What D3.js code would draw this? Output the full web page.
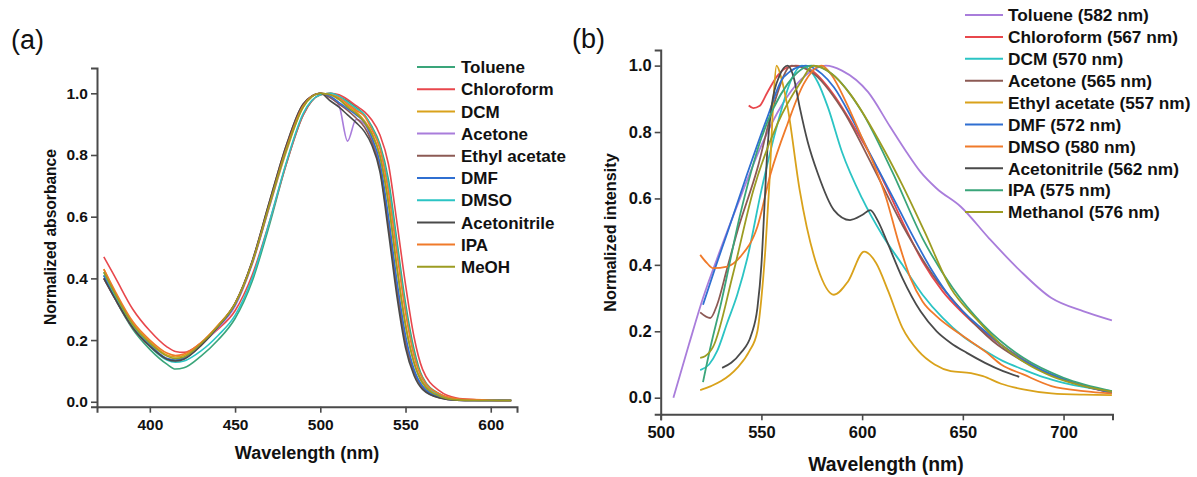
<!DOCTYPE html>
<html>
<head>
<meta charset="utf-8">
<script src="https://cdn.jsdelivr.net/npm/d3@7"></script>
<style>
  html, body { margin: 0; padding: 0; background: #ffffff; }
  svg { display: block; font-family: "Liberation Sans", Arial, sans-serif; }
</style>
</head>
<body>
<svg id="chart" width="1197" height="477"></svg>
<script>
// ---------------- Panel (a): absorbance ----------------
const aWavelengths = [373,380,390,400,410,415,420,430,440,450,460,470,480,490,500,506,511,516,521,526,530,535,540,545,550,555,560,570,580,590,600,612];
const aNames = ["Toluene","Chloroform","DCM","Acetone","Ethyl acetate","DMF","DMSO","Acetonitrile","IPA","MeOH"];
const aColors = ["#3aa57a","#e8474c","#d9a21b","#a97ddb","#8c5a54","#2f6fd1","#2bc4c4","#4a4a4a","#f07a2a","#9c9c22"];
const aToluene      = [0.41,0.33,0.235,0.17,0.122,0.106,0.11,0.148,0.2,0.27,0.39,0.57,0.77,0.93,0.995,1.0,0.99,0.975,0.955,0.93,0.895,0.835,0.72,0.52,0.32,0.17,0.08,0.025,0.008,0.006,0.006,0.005];
const aChloroform   = [0.47,0.40,0.30,0.23,0.178,0.163,0.16,0.19,0.235,0.295,0.41,0.58,0.77,0.93,0.995,1.0,0.995,0.98,0.96,0.94,0.915,0.865,0.77,0.58,0.38,0.21,0.105,0.035,0.012,0.007,0.005,0.004];
const aDCM          = [0.43,0.35,0.255,0.195,0.152,0.145,0.15,0.19,0.248,0.318,0.45,0.63,0.81,0.955,1.0,0.995,0.98,0.96,0.94,0.91,0.875,0.8,0.65,0.44,0.255,0.13,0.065,0.02,0.007,0.005,0.004,0.004];
const aAcetone      = [0.40,0.33,0.24,0.18,0.14,0.134,0.14,0.183,0.24,0.31,0.445,0.63,0.815,0.96,1.0,0.985,0.96,0.845,0.915,0.9,0.855,0.765,0.58,0.37,0.2,0.1,0.05,0.015,0.005,0.004,0.004,0.004];
const aEthylAcetate = [0.40,0.33,0.24,0.18,0.138,0.133,0.14,0.185,0.245,0.32,0.455,0.645,0.83,0.965,1.0,0.985,0.965,0.945,0.92,0.89,0.845,0.755,0.57,0.36,0.19,0.095,0.045,0.013,0.005,0.004,0.004,0.004];
const aDMF          = [0.41,0.335,0.245,0.185,0.14,0.135,0.142,0.185,0.243,0.315,0.45,0.635,0.82,0.96,1.0,0.99,0.97,0.95,0.93,0.905,0.86,0.775,0.6,0.39,0.215,0.105,0.05,0.015,0.005,0.004,0.004,0.004];
const aDMSO         = [0.42,0.34,0.245,0.18,0.135,0.128,0.132,0.165,0.215,0.28,0.40,0.58,0.775,0.935,0.995,1.0,0.99,0.97,0.95,0.93,0.89,0.825,0.7,0.5,0.3,0.155,0.075,0.022,0.007,0.005,0.005,0.004];
const aAcetonitrile = [0.40,0.33,0.24,0.18,0.138,0.132,0.138,0.182,0.243,0.318,0.455,0.645,0.83,0.965,1.0,0.975,0.955,0.93,0.905,0.875,0.835,0.745,0.55,0.34,0.175,0.085,0.04,0.012,0.005,0.004,0.004,0.004];
const aIPA          = [0.43,0.355,0.26,0.2,0.158,0.15,0.155,0.192,0.248,0.318,0.45,0.635,0.82,0.96,1.0,0.995,0.985,0.965,0.945,0.925,0.885,0.82,0.68,0.48,0.29,0.15,0.075,0.025,0.01,0.007,0.005,0.004];
const aMeOH         = [0.42,0.345,0.25,0.19,0.148,0.14,0.145,0.188,0.245,0.318,0.45,0.635,0.815,0.955,1.0,0.995,0.98,0.955,0.935,0.905,0.87,0.795,0.64,0.43,0.245,0.125,0.06,0.018,0.006,0.004,0.004,0.004];
const aValues = [aToluene,aChloroform,aDCM,aAcetone,aEthylAcetate,aDMF,aDMSO,aAcetonitrile,aIPA,aMeOH];
const aXTicks = [400,450,500,550,600];
const aYTicks = [0.0,0.2,0.4,0.6,0.8,1.0];

// ---------------- Panel (b): emission ----------------
const bNames = ["Toluene (582 nm)","Chloroform (567 nm)","DCM (570 nm)","Acetone (565 nm)","Ethyl acetate (557 nm)","DMF (572 nm)","DMSO (580 nm)","Acetonitrile (562 nm)","IPA (575 nm)","Methanol (576 nm)"];
const bColors = ["#a97ddb","#e8474c","#2bc4c4","#8c5a54","#d9a21b","#2f6fd1","#f07a2a","#4a4a4a","#3aa57a","#9c9c22"];
const bTolueneW = [506.3,514,521,529.6,540,550,560,570,582,590,603,614,622,629,637,649,663,678,694,710,724];
const bTolueneI = [0.0,0.16,0.30,0.445,0.61,0.76,0.88,0.96,1.0,0.985,0.92,0.815,0.74,0.68,0.63,0.575,0.48,0.385,0.3,0.26,0.233];
const bChloroformW = [543.7,546,549,553,558,563,567,575,585,596,605,612,620,630,640,650,660,670,680,690,700,712,724];
const bChloroformI = [0.88,0.872,0.878,0.92,0.97,0.995,1.0,0.985,0.92,0.815,0.72,0.635,0.53,0.41,0.32,0.255,0.2,0.155,0.115,0.08,0.055,0.032,0.015];
const bDCMW = [519.6,524,528,533,538,543,550,558,565,570,578,583,590,600,610,620,630,640,650,660,670,680,690,700,712,724];
const bDCMI = [0.083,0.1,0.14,0.225,0.31,0.42,0.625,0.825,0.96,1.0,0.95,0.875,0.74,0.6,0.49,0.4,0.31,0.24,0.185,0.145,0.11,0.085,0.062,0.045,0.03,0.02];
const bAcetoneW = [519.6,524.6,528,533,538,548,556,565,575,590,605,620,635,650,665,680,700,724];
const bAcetoneI = [0.257,0.24,0.28,0.39,0.5,0.69,0.88,1.0,0.98,0.87,0.7,0.52,0.37,0.26,0.17,0.11,0.055,0.015];
const bEthylAcetateW = [519.6,525,530,538,544,548,550,552,554,556,557.5,560,563,569,578,586,593,601,607,613,620,628,636,644,654,660,669,680,694,710,724];
const bEthylAcetateI = [0.023,0.035,0.05,0.09,0.14,0.2,0.3,0.45,0.65,0.9,1.0,0.96,0.875,0.625,0.39,0.31,0.35,0.44,0.405,0.32,0.21,0.14,0.1,0.08,0.074,0.065,0.042,0.025,0.013,0.009,0.008];
const bDMFW = [521,527,533,543,553,561,572,580,586,595,603,616,624,635,644,661,678,700,724];
const bDMFI = [0.28,0.39,0.495,0.675,0.845,0.965,1.0,0.975,0.935,0.84,0.745,0.595,0.5,0.38,0.3,0.2,0.12,0.055,0.015];
const bDMSOW = [519.6,523,526,533,539.6,548,554.6,563,571,580,585,592,599,606,612,618,624,630,637,649,662,669,680,694,710,724];
const bDMSOI = [0.43,0.405,0.39,0.395,0.425,0.515,0.675,0.825,0.945,1.0,0.97,0.89,0.795,0.7,0.6,0.47,0.36,0.29,0.245,0.19,0.135,0.1,0.07,0.035,0.02,0.013];
const bAcetonitrileW = [530.5,535,539.6,545,548,550,551.5,553,555,559,563,566,569,573,578,586,594,600,604,608,612,620,629,637,644,652,661,670,678];
const bAcetonitrileI = [0.09,0.105,0.134,0.19,0.27,0.4,0.575,0.75,0.875,0.97,1.0,0.965,0.875,0.77,0.675,0.565,0.535,0.55,0.565,0.53,0.475,0.36,0.26,0.2,0.165,0.135,0.105,0.08,0.063];
const bIPAW = [521,525,529.6,539.6,549.6,563,575,585,600,615,630,645,660,680,700,724];
const bIPAI = [0.047,0.16,0.275,0.555,0.775,0.945,1.0,0.975,0.86,0.68,0.48,0.33,0.22,0.12,0.06,0.02];
const bMethanolW = [519.6,522,526,536,546,558,569,576,585,594,611,620,631,644,657,669,681,694,710,724];
const bMethanolI = [0.12,0.125,0.153,0.375,0.625,0.825,0.945,1.0,0.975,0.915,0.745,0.64,0.5,0.33,0.235,0.16,0.105,0.065,0.035,0.018];
const bWavelengths = [bTolueneW,bChloroformW,bDCMW,bAcetoneW,bEthylAcetateW,bDMFW,bDMSOW,bAcetonitrileW,bIPAW,bMethanolW];
const bIntensities = [bTolueneI,bChloroformI,bDCMI,bAcetoneI,bEthylAcetateI,bDMFI,bDMSOI,bAcetonitrileI,bIPAI,bMethanolI];
const bXTicks = [500,550,600,650,700];
const bYTicks = [0.0,0.2,0.4,0.6,0.8,1.0];

// ---------------- Drawing ----------------
const svg = d3.select("#chart");
const axisColor = "#4a4a4a";
const fmt = d3.format(".1f");

function styleAxis(size) {
  return function(g) {
    g.select(".domain").attr("stroke", axisColor).attr("stroke-width", 2);
    g.selectAll(".tick line").attr("stroke", axisColor).attr("stroke-width", 1.6);
    g.selectAll(".tick text").attr("fill", "#111").attr("font-size", size).attr("font-weight", "bold")
      .attr("font-family", "'Liberation Sans', Arial, sans-serif");
  };
}

// Panel (a)
const ax = d3.scaleLinear().domain([369, 615.4]).range([97, 517]);
const ay = d3.scaleLinear().domain([-0.016, 1.082]).range([406.7, 68]);

svg.append("g").attr("transform", "translate(0,406.7)")
  .call(d3.axisBottom(ax).tickValues(aXTicks).tickSizeOuter(0).tickSize(6).tickPadding(6))
  .call(styleAxis(15.5));
svg.append("g").attr("transform", "translate(97,0)")
  .call(d3.axisLeft(ay).tickValues(aYTicks).tickFormat(fmt).tickSizeOuter(0).tickSize(6).tickPadding(3))
  .call(styleAxis(15.5));

const aLine = d3.line().x(d => ax(d[0])).y(d => ay(d[1])).curve(d3.curveMonotoneX);
const aG = svg.append("g");
aValues.forEach((vals, i) => {
  aG.append("path")
    .datum(aWavelengths.map((w, j) => [w, vals[j]]))
    .attr("d", aLine).attr("fill", "none")
    .attr("stroke", aColors[i]).attr("stroke-width", 1.6);
});

svg.append("text").attr("x", 307).attr("y", 459).attr("text-anchor", "middle")
  .attr("font-size", 18).attr("font-weight", "bold").attr("fill", "#111").text("Wavelength (nm)");
svg.append("text").attr("transform", "translate(56,237) rotate(-90)").attr("text-anchor", "middle")
  .attr("font-size", 15.6).attr("font-weight", "bold").attr("fill", "#111").text("Normalized absorbance");
svg.append("text").attr("x", 11).attr("y", 49).attr("font-size", 27).attr("fill", "#111").text("(a)");

const aLeg = svg.append("g");
aNames.forEach((n, i) => {
  const y = 67 + i * 22.2;
  aLeg.append("line").attr("x1", 417).attr("x2", 455).attr("y1", y).attr("y2", y)
    .attr("stroke", aColors[i]).attr("stroke-width", 2);
  aLeg.append("text").attr("x", 461).attr("y", y).attr("dy", "0.36em")
    .attr("font-size", 17).attr("font-weight", "bold").attr("fill", "#111").text(n);
});

// Panel (b)
const bx = d3.scaleLinear().domain([500, 724.3]).range([660.7, 1112.5]);
const by = d3.scaleLinear().domain([-0.05, 1.047]).range([414.3, 50]);

svg.append("g").attr("transform", "translate(0,414.3)")
  .call(d3.axisBottom(bx).tickValues(bXTicks).tickSizeOuter(0).tickSize(6).tickPadding(6))
  .call(styleAxis(16.5));
svg.append("g").attr("transform", "translate(660.7,0)")
  .call(d3.axisLeft(by).tickValues(bYTicks).tickFormat(fmt).tickSizeOuter(0).tickSize(6).tickPadding(3))
  .call(styleAxis(16.5));

const bLine = d3.line().x(d => bx(d[0])).y(d => by(d[1])).curve(d3.curveMonotoneX);
const bG = svg.append("g");
bIntensities.forEach((vals, i) => {
  bG.append("path")
    .datum(bWavelengths[i].map((w, j) => [w, vals[j]]))
    .attr("d", bLine).attr("fill", "none")
    .attr("stroke", bColors[i]).attr("stroke-width", 1.8);
});

svg.append("text").attr("x", 886).attr("y", 471).attr("text-anchor", "middle")
  .attr("font-size", 19.4).attr("font-weight", "bold").attr("fill", "#111").text("Wavelength (nm)");
svg.append("text").attr("transform", "translate(616,232.5) rotate(-90)").attr("text-anchor", "middle")
  .attr("font-size", 16.2).attr("font-weight", "bold").attr("fill", "#111").text("Normalized intensity");
svg.append("text").attr("x", 572).attr("y", 48).attr("font-size", 27).attr("fill", "#111").text("(b)");

const bLeg = svg.append("g");
bNames.forEach((n, i) => {
  const y = 15 + i * 21.9;
  bLeg.append("line").attr("x1", 965).attr("x2", 1003).attr("y1", y).attr("y2", y)
    .attr("stroke", bColors[i]).attr("stroke-width", 2);
  bLeg.append("text").attr("x", 1008).attr("y", y).attr("dy", "0.36em")
    .attr("font-size", 17.3).attr("font-weight", "bold").attr("fill", "#111").text(n);
});
</script>
</body>
</html>
